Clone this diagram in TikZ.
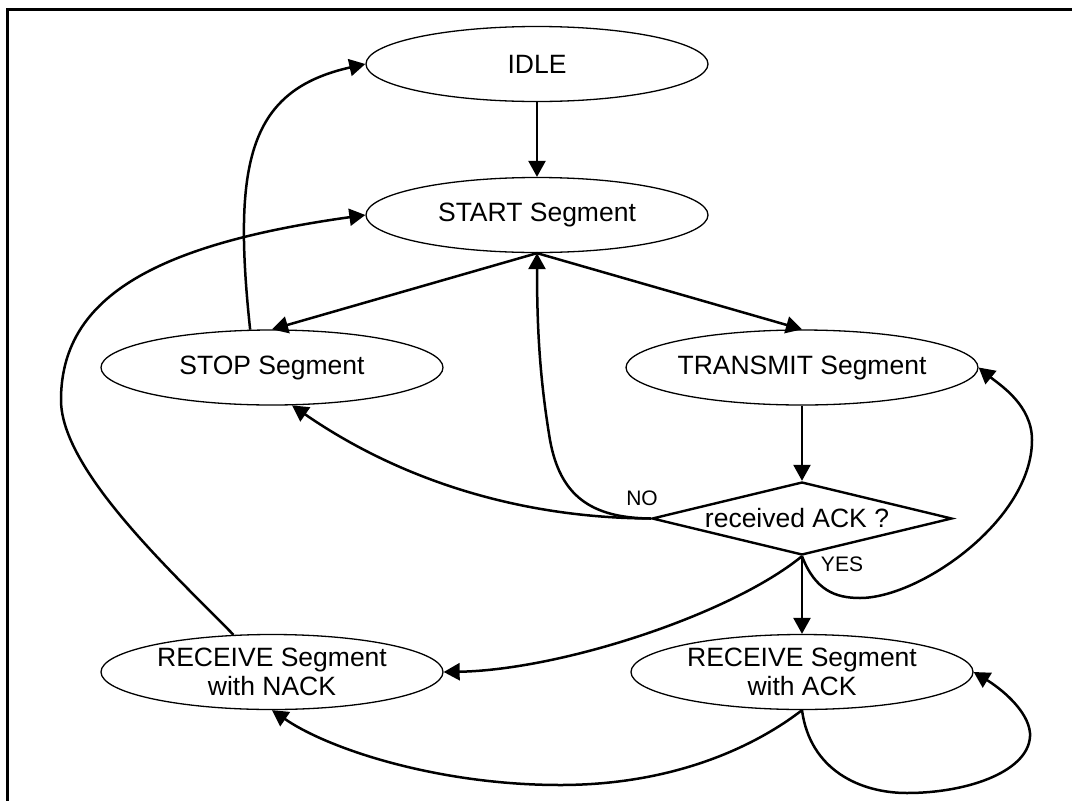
\documentclass[tikz,border=0pt]{standalone}
\usepackage{fontspec}
\setmainfont{Liberation Sans}
\usetikzlibrary{shapes.geometric,arrows.meta}
\begin{document}
\begin{tikzpicture}[x=1pt,y=-1pt,
  state/.style={draw, ellipse, line width=1.3pt, minimum width=342pt, minimum height=75pt, inner sep=0pt, align=center, font=\fontsize{26.5}{28.5}\selectfont},
  decision/.style={draw, diamond, line width=2.4pt, aspect=4.1, minimum width=300pt, minimum height=73pt, inner sep=0pt, font=\fontsize{26.5}{28.5}\selectfont},
  conn/.style={line width=2.5pt, -{Triangle[length=16pt,width=17pt]}},
  lbl/.style={font=\fontsize{21}{23}\selectfont, inner sep=0pt}]
\useasboundingbox (0,0) rectangle (1072,801);
\draw[line width=2.8pt] (7.2,801) -- (7.2,9.7) -- (1072,9.7);

\node[state] (idle) at (537,64) {IDLE};
\node[state] (start) at (537,215) {START Segment};
\node[state] (stop) at (272,367.5) {STOP Segment};
\node[state] (transmit) at (802,367.5) {TRANSMIT Segment};
\node[decision] (dec) at (802,518.5) {received ACK ?\hspace*{10pt}};
\node[state] (nack) at (272,672) {RECEIVE Segment\\with NACK};
\node[state] (ack) at (802,672) {RECEIVE Segment\\with ACK};

\node[lbl] (no) at (642,498) {NO};
\node[lbl] (yes) at (842,564) {YES};

\draw[conn] (idle.south) -- (start.north);
\draw[conn] (start.south) -- (stop.north);
\draw[conn] (start.south) -- (transmit.north);
\draw[conn] (transmit.south) -- (dec.north);
\draw[conn] (dec.south) -- (ack.north);
\draw[conn] (stop.120) .. controls (232,160) and (250,90) .. (idle.west);
\draw[conn] (nack.136) .. controls (173,573) and (61,470) .. (61,400) .. controls (61,300) and (150,245) .. (start.west);
\draw[conn] (dec.west) .. controls (520,518) and (400,480) .. (stop.-62);
\draw[conn] (dec.west) .. controls (590,518) and (560,495) .. (550,440) .. controls (540,380) and (537,330) .. (start.south);
\draw[conn] (dec.south) .. controls (815,590) and (835,598) .. (860,598) .. controls (920,598) and (1032,520) .. (1032,440) .. controls (1032,405) and (1000,385) .. (transmit.east);
\draw[conn] (dec.south) .. controls (730,615) and (560,670) .. (nack.east);
\draw[conn] (ack.south) .. controls (810,770) and (860,793) .. (907,793) .. controls (970,793) and (1032,770) .. (1030,733) .. controls (1028,710) and (1000,688) .. (ack.east);
\draw[conn] (ack.south) .. controls (770,735) and (690,785) .. (560,785) .. controls (440,785) and (330,750) .. (nack.south);
\end{tikzpicture}
\end{document}
